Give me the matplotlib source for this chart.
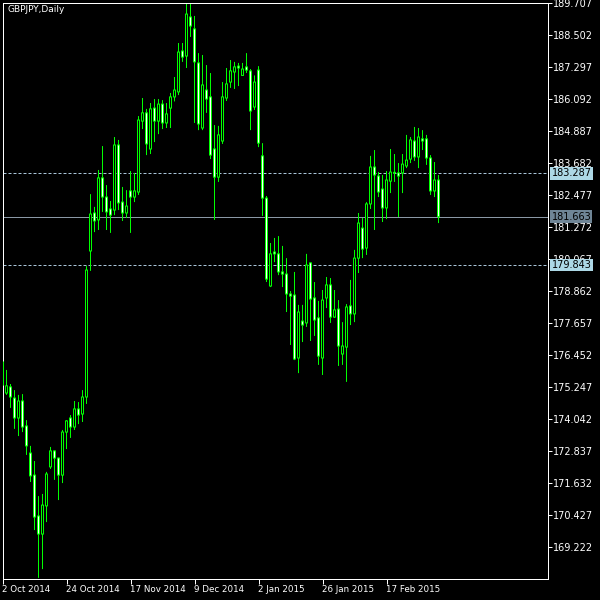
import matplotlib
matplotlib.use("Agg")
import matplotlib.pyplot as plt
import matplotlib.transforms as mtransforms
import pandas as pd
import numpy as np

plt.rcParams['font.family'] = ['DejaVu Sans']
plt.rcParams['lines.scale_dashes'] = False

symbol_title = "GBPJPY,Daily"

# trading days (Dec 25 and Jan 1 closed)
dates = [d for d in pd.bdate_range("2014-10-02", "2015-03-06")
         if not ((d.month == 12 and d.day == 25) or (d.month == 1 and d.day == 1))]

opens = [175.32, 175.02, 175.25, 174.83, 174.08, 174.72, 173.78, 172.76, 171.93, 170.39,
         169.71, 170.77, 172.24, 172.84, 172.57, 171.93, 173.55, 174.08, 173.74, 174.42,
         174.23, 174.87, 180.37, 181.80, 181.54, 183.12, 182.40, 181.95, 181.91, 184.36,
         182.21, 181.80, 182.63, 182.40, 182.59, 185.26, 185.57, 184.21, 185.75, 185.26,
         185.90, 185.19, 185.75, 186.17, 186.36, 187.90, 187.71, 189.18, 188.73, 187.45,
         185.00, 186.43, 186.17, 184.21, 183.15, 184.51, 186.13, 186.73, 187.11, 187.33,
         186.98, 187.30, 187.15, 185.79, 187.18, 183.95, 182.36, 179.05, 180.33, 180.26,
         179.58, 179.50, 178.75, 178.71, 176.34, 177.73, 177.66, 179.92, 178.60, 177.85,
         176.34, 178.60, 179.09, 177.88, 178.18, 176.49, 176.75, 178.30, 178.00, 180.10,
         181.23, 180.48, 182.14, 183.53, 183.19, 182.70, 181.99, 183.00, 183.33, 183.31,
         183.31, 183.57, 183.83, 184.51, 183.91, 184.59, 184.59, 183.87, 182.63, 183.04]
highs = [176.34, 175.89, 175.36, 175.13, 174.95, 174.98, 174.00, 173.03, 172.46, 171.14,
         171.22, 172.05, 172.99, 172.86, 172.59, 173.63, 174.00, 174.19, 174.72, 174.68,
         175.13, 179.80, 182.51, 182.03, 183.42, 184.32, 182.85, 182.25, 184.66, 184.55,
         182.78, 182.66, 183.38, 183.31, 185.45, 186.13, 185.72, 185.94, 186.09, 186.09,
         186.05, 185.94, 186.32, 186.92, 188.20, 188.20, 189.707, 189.69, 189.22, 187.82,
         187.75, 187.37, 187.07, 185.11, 185.08, 186.73, 187.26, 187.56, 187.49, 187.45,
         187.45, 187.82, 187.22, 186.98, 187.33, 184.43, 182.44, 180.67, 180.86, 180.93,
         180.56, 180.10, 178.86, 179.58, 178.34, 178.34, 180.26, 179.94, 179.20, 178.49,
         178.90, 179.39, 179.35, 178.90, 178.52, 177.69, 178.37, 179.28, 180.41, 181.80,
         181.61, 182.21, 183.95, 184.17, 183.34, 183.23, 183.38, 184.21, 184.02, 183.68,
         184.02, 184.74, 184.66, 185.04, 185.00, 184.92, 184.74, 183.98, 183.72, 183.23]
lows = [175.02, 174.95, 174.46, 173.67, 173.40, 173.55, 172.69, 171.67, 169.86, 168.06,
        168.39, 170.16, 172.16, 171.75, 170.99, 171.63, 172.91, 173.33, 173.63, 173.85,
        173.93, 174.61, 179.62, 181.08, 181.16, 181.84, 181.16, 181.05, 181.72, 181.91,
        181.50, 181.61, 181.05, 182.21, 182.48, 184.96, 183.98, 184.02, 184.47, 184.77,
        184.96, 185.00, 185.00, 186.00, 186.24, 187.49, 187.26, 188.43, 185.19, 184.92,
        184.92, 185.57, 183.83, 181.54, 182.97, 184.40, 186.02, 186.51, 186.47, 186.58,
        186.96, 187.07, 184.92, 185.68, 184.28, 181.69, 179.20, 179.01, 179.95, 179.46,
        179.01, 178.07, 176.83, 176.26, 175.77, 176.94, 177.51, 176.98, 177.17, 176.08,
        175.70, 178.22, 177.66, 177.85, 176.04, 176.08, 175.44, 177.58, 177.69, 179.54,
        180.10, 180.22, 181.95, 181.16, 182.40, 181.46, 181.57, 182.55, 182.97, 181.65,
        182.55, 183.49, 183.68, 183.76, 183.49, 184.17, 183.61, 182.48, 182.40, 181.42]
closes = [176.19, 175.29, 174.87, 174.08, 174.72, 173.74, 173.03, 171.90, 170.35, 169.71,
          170.80, 171.97, 172.84, 172.57, 171.93, 173.55, 173.97, 173.74, 174.42, 174.19,
          174.87, 179.65, 181.76, 181.50, 183.12, 182.40, 181.84, 181.72, 184.36, 182.18,
          181.80, 182.06, 182.40, 182.63, 185.30, 185.57, 184.40, 185.72, 185.26, 185.90,
          185.19, 185.53, 186.17, 186.43, 187.86, 187.67, 189.29, 188.84, 187.49, 185.15,
          186.62, 186.09, 183.98, 183.15, 184.74, 186.17, 186.66, 187.15, 187.30, 187.26,
          187.22, 187.18, 185.64, 186.73, 184.43, 182.36, 179.31, 180.26, 180.26, 179.58,
          179.50, 178.75, 178.67, 176.30, 178.07, 177.58, 179.84, 178.56, 177.77, 176.41,
          178.52, 179.09, 177.88, 178.15, 176.79, 176.79, 178.26, 178.00, 180.10, 181.42,
          180.44, 182.14, 183.53, 183.23, 182.59, 181.99, 183.04, 183.34, 183.31, 183.19,
          183.64, 183.79, 184.55, 183.91, 184.66, 184.51, 183.87, 182.63, 183.04, 181.663]

price_ticks = [169.222, 170.427, 171.632, 172.837, 174.042, 175.247, 176.452, 177.657,
               178.862, 180.067, 181.272, 182.477, 183.682, 184.887, 186.092, 187.297,
               188.502, 189.707]
price_tick_labels = ["169.222", "170.427", "171.632", "172.837", "174.042", "175.247",
                     "176.452", "177.657", "178.862", "180.067", "181.272", "182.477",
                     "183.682", "184.887", "186.092", "187.297", "188.502", "189.707"]

level_upper = 183.287
level_lower = 179.843
last_price = 181.663
y_min, y_max = 168.036, 189.726

GREEN = '#00ff00'
PX = 72.0 / 100.0  # one pixel in points

W = H = 600
L_px, R_px, T_px, B_px = 2.5, 547.5, 2.5, 578.5
fig = plt.figure(figsize=(6, 6), dpi=100, facecolor='black')
ax = fig.add_axes([L_px / W, 1 - B_px / H, (R_px - L_px) / W, (B_px - T_px) / H])
ax.set_facecolor('black')

n = len(opens)
x = np.arange(n)
o = np.array(opens); c = np.array(closes)
h = np.array(highs); l = np.array(lows)
py = (y_max - y_min) / (B_px - T_px)   # one pixel in price units

# wicks as 1-px wide bars
ax.bar(x, h - l, bottom=l, width=0.25, color=GREEN, linewidth=0, zorder=2, snap=False)
# bodies: green outer box (3 px wide), inner fill 1 px wide
bull = c >= o
top = np.maximum(o, c)
bot = np.minimum(o, c)
ax.bar(x, (top - bot) + py, bottom=bot - py / 2, width=0.75, color=GREEN,
       linewidth=0, zorder=3, snap=False)
inner_h = np.maximum((top - bot) - py, 0)
has_inner = inner_h > 0
fill_col = np.where(bull, 'black', 'white')
ax.bar(x[has_inner], inner_h[has_inner], bottom=bot[has_inner] + py / 2, width=0.25,
       color=list(fill_col[has_inner]), linewidth=0, zorder=4, snap=False)

# levels
ax.axhline(level_upper, color='#a9c4d8', linewidth=PX, dashes=(3 * PX, 2 * PX), zorder=1)
ax.axhline(level_lower, color='#a9c4d8', linewidth=PX, dashes=(3 * PX, 2 * PX), zorder=1)
ax.axhline(last_price, color='#8a98a5', linewidth=PX, zorder=1)

ax.set_xlim(0, (R_px - L_px) / 4)
ax.set_ylim(y_min, y_max)

for s in ax.spines.values():
    s.set_color('white')
    s.set_linewidth(PX)

# y axis on right
ax.yaxis.tick_right()
ax.set_yticks(price_ticks, price_tick_labels)
ax.tick_params(axis='y', colors='white', labelcolor='white', length=4 * PX,
               width=PX, pad=1, labelsize=7, direction='out')

# x axis: every 16 bars
xt = list(range(0, n, 16))
xlabels = [f"{dates[i].day} {dates[i]:%b %Y}" for i in xt]
ax.set_xticks(xt, xlabels)
ax.tick_params(axis='x', colors='white', labelcolor='white', length=5 * PX,
               width=PX, pad=1, labelsize=6.3, direction='out')
for lab in ax.get_xticklabels():
    lab.set_horizontalalignment('left')

# price boxes
trans = mtransforms.blended_transform_factory(ax.transAxes, ax.transData)
xbox = 1 + 4 / (R_px - L_px)
for val, fc in [(level_upper, '#add8e6'), (last_price, '#6f8596'), (level_lower, '#add8e6')]:
    ax.text(xbox, val, f"{val:.3f}", transform=trans, ha='left', va='center',
            fontsize=7, color='black', clip_on=False, zorder=5,
            bbox=dict(boxstyle='square,pad=0.12', fc=fc, ec='none'))

ax.text(5 / 545, 1 - 3 / 576, symbol_title, transform=ax.transAxes, ha='left', va='top',
        fontsize=6.5, color='white')

fig.savefig("out.png", dpi=100, facecolor='black')
